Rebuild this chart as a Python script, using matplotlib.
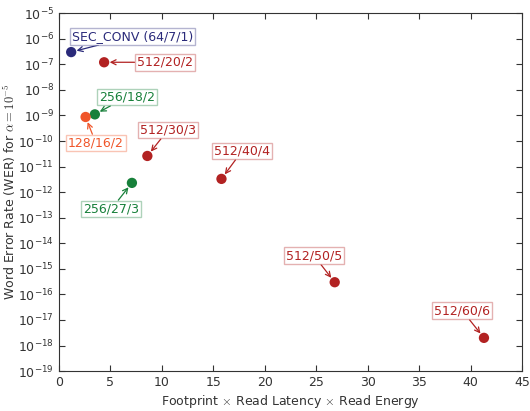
import numpy as np
import matplotlib
matplotlib.use('Agg')
import matplotlib.pyplot as plt
from matplotlib.colors import to_rgba

plt.rcParams['mathtext.fontset'] = 'cm'
plt.rcParams['font.family'] = 'DejaVu Sans'

# data
names = ['SEC_CONV (64/7/1)', '512/20/2', '256/18/2', '128/16/2', '512/30/3',
         '256/27/3', '512/40/4', '512/50/5', '512/60/6']
cost = [1.2, 4.4, 3.5, 2.6, 8.6, 7.1, 15.8, 26.8, 41.3]
wer = [3.0e-7, 1.2e-7, 1.1e-9, 8.7e-10, 2.6e-11, 2.3e-12, 3.3e-12, 3.0e-16, 2.0e-18]
groups = ['sec', 'r', 'g', 'o', 'r', 'g', 'r', 'r', 'r']
label_x = [7.2, 10.3, 6.6, 3.6, 10.6, 5.1, 17.8, 24.8, 39.2]
label_y = [10**-5.9, 1.2e-7, 10**-8.28, 10**-10.08, 10**-9.57, 10**-12.66,
           10**-10.39, 10**-14.49, 10**-16.64]

colors = {'sec': '#2a2a7a', 'r': '#b22222', 'g': '#17803a', 'o': '#f0562a'}

fig = plt.figure(figsize=(5.3, 4.11), dpi=100)
ax = fig.add_axes([0.111, 0.097, 0.874, 0.871])

for i in range(len(names)):
    c = colors[groups[i]]
    ax.scatter(cost[i], wer[i], s=55, color=c, zorder=3, edgecolors='none')
    ax.annotate(names[i], xy=(cost[i], wer[i]), xytext=(label_x[i], label_y[i]),
                ha='center', va='center', color=c, fontsize=9,
                bbox=dict(boxstyle='square,pad=0.15', fc='white',
                          ec=to_rgba(c, 0.35), lw=1),
                arrowprops=dict(arrowstyle='->', color=c, lw=0.9,
                                shrinkA=0, shrinkB=4))

ax.set_yscale('log')
ax.set_xlim(0, 45)
ax.set_ylim(1e-19, 1e-5)
ax.set_yticks([10.0**k for k in range(-19, -4)])
ax.minorticks_off()
ax.set_xticks(np.arange(0, 46, 5))
ax.tick_params(direction='in', top=True, right=True, length=4, labelsize=9,
               colors='#333333', labelcolor='#333333')
for sp in ax.spines.values():
    sp.set_color('#333333')

ax.set_xlabel(r'Footprint $\times$ Read Latency $\times$ Read Energy',
              fontsize=9, color='#333333')
ax.set_ylabel(r'Word Error Rate (WER) for $\alpha = 10^{-5}$',
              fontsize=9, color='#333333')
ax.xaxis.set_label_coords(0.5, -0.06)
ax.yaxis.set_label_coords(-0.089, 0.5)

fig.savefig('out.png', dpi=100)
